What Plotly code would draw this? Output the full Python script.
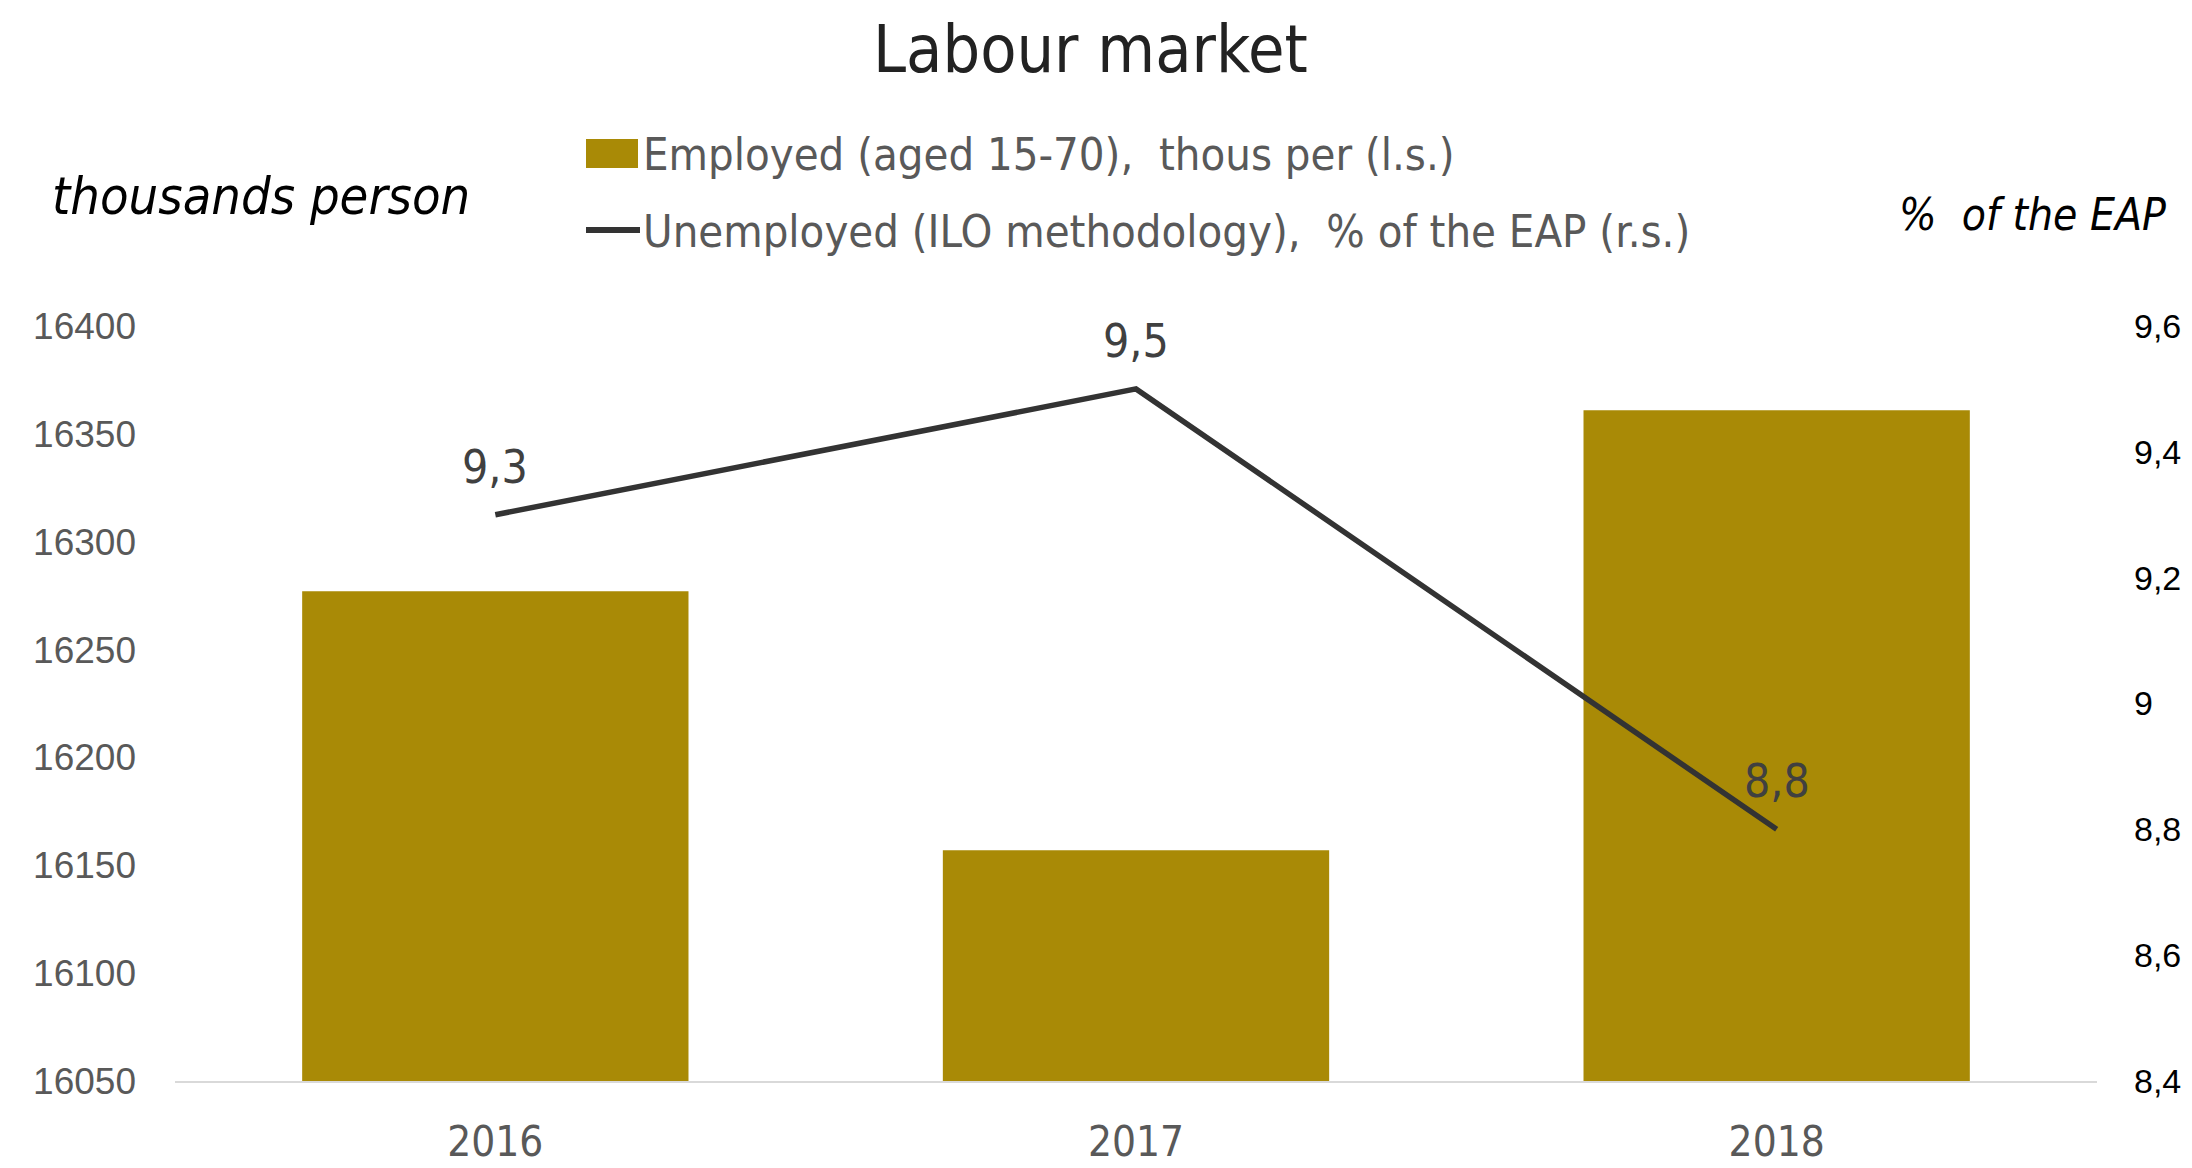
import plotly.graph_objects as go

# ---- data ----
years = ["2016", "2017", "2018"]
employed = [16277, 16157, 16361]          # thousands of persons (left scale)
unemployment = [9.3, 9.5, 8.8]            # % of the economically active population (right scale)

left_ticks = [16050, 16100, 16150, 16200, 16250, 16300, 16350, 16400]
left_tick_text = ["16050", "16100", "16150", "16200", "16250", "16300", "16350", "16400"]
right_ticks = [8.4, 8.6, 8.8, 9.0, 9.2, 9.4, 9.6]
right_tick_text = ["8,4", "8,6", "8,8", "9", "9,2", "9,4", "9,6"]

title_text = "Labour market"
bar_name = "Employed (aged 15-70),  thous per (l.s.)"
line_name = "Unemployed (ILO methodology),  % of the EAP (r.s.)"
left_unit = "thousands person"
right_unit = "%  of the EAP"

# ---- styling ----
W, H = 2192, 1168
PL, PR, PT, PB = 175, 2097, 326, 1081      # plot box in pixels
BAR_COLOR = "#A98A06"
LINE_COLOR = "#333333"
NARROW = "Liberation Sans Narrow, Arial Narrow, DejaVu Sans Condensed, sans-serif"
REGULAR = "Liberation Sans, Arial, DejaVu Sans, sans-serif"


def px(x):
    return (x - PL) / (PR - PL)


def py(y):
    return (PB - y) / (PB - PT)


fig = go.Figure()

fig.add_trace(go.Bar(
    x=years, y=employed, name=bar_name,
    marker=dict(color=BAR_COLOR, line=dict(width=0)),
    yaxis="y", showlegend=False,
))

fig.add_trace(go.Scatter(
    x=years, y=unemployment, name=line_name, mode="lines",
    line=dict(color=LINE_COLOR, width=5.5),
    yaxis="y2", showlegend=False,
))

annotations = []
# value labels above the line points (x given as category index)
for i, v in enumerate(unemployment):
    annotations.append(dict(
        x=i, y=v, xref="x", yref="y2",
        text=f"{v:.1f}".replace(".", ","),
        showarrow=False, yanchor="middle", yshift=48,
        font=dict(family=NARROW, size=46, color="#404040"),
    ))

# title
annotations.append(dict(
    x=px(1090), y=py(49), xref="paper", yref="paper",
    text=title_text, showarrow=False, xanchor="center", yanchor="middle",
    font=dict(family=NARROW, size=66, color="#222222"),
))
# axis unit captions
annotations.append(dict(
    x=px(50), y=py(196), xref="paper", yref="paper",
    text=f"<i>{left_unit}</i>", showarrow=False, xanchor="left", yanchor="middle",
    font=dict(family=NARROW, size=52, color="#000000"),
))
annotations.append(dict(
    x=px(2168), y=py(214), xref="paper", yref="paper",
    text=f"<i>{right_unit}</i>", showarrow=False, xanchor="right", yanchor="middle",
    font=dict(family=NARROW, size=44, color="#000000"),
))
# legend texts
annotations.append(dict(
    x=px(641), y=py(154), xref="paper", yref="paper",
    text=bar_name, showarrow=False, xanchor="left", yanchor="middle",
    font=dict(family=NARROW, size=45, color="#595959"),
))
annotations.append(dict(
    x=px(641), y=py(231), xref="paper", yref="paper",
    text=line_name, showarrow=False, xanchor="left", yanchor="middle",
    font=dict(family=NARROW, size=45, color="#595959"),
))

shapes = [
    # legend swatch for bars
    dict(type="rect", xref="paper", yref="paper",
         x0=px(586), x1=px(638), y0=py(168), y1=py(139),
         fillcolor=BAR_COLOR, line=dict(width=0)),
    # legend swatch for line
    dict(type="line", xref="paper", yref="paper",
         x0=px(586), x1=px(640), y0=py(230), y1=py(230),
         line=dict(color=LINE_COLOR, width=6)),
]

fig.update_layout(
    width=W, height=H,
    margin=dict(l=PL, r=W - PR, t=PT, b=H - PB, pad=0, autoexpand=False),
    paper_bgcolor="white", plot_bgcolor="white",
    bargap=0.397,
    annotations=annotations,
    shapes=shapes,
    xaxis=dict(
        type="category", range=[-0.5, 2.5], autorange=False, automargin=False,
        showgrid=False, zeroline=False,
        showline=True, linecolor="#D9D9D9", linewidth=2,
        ticks="", ticklabelstandoff=23,
        tickfont=dict(family=NARROW, size=42, color="#595959"),
    ),
    yaxis=dict(
        range=[16050, 16400], tickvals=left_ticks, ticktext=left_tick_text,
        automargin=False,
        showgrid=False, zeroline=False, showline=False, ticks="",
        ticklabelstandoff=38,
        tickfont=dict(family=REGULAR, size=37, color="#595959"),
    ),
    yaxis2=dict(
        range=[8.4, 9.6], tickvals=right_ticks, ticktext=right_tick_text,
        overlaying="y", side="right", automargin=False,
        showgrid=False, zeroline=False, showline=False, ticks="",
        ticklabelstandoff=36,
        tickfont=dict(family=REGULAR, size=34, color="#000000"),
    ),
)

fig.write_html("out.html")
